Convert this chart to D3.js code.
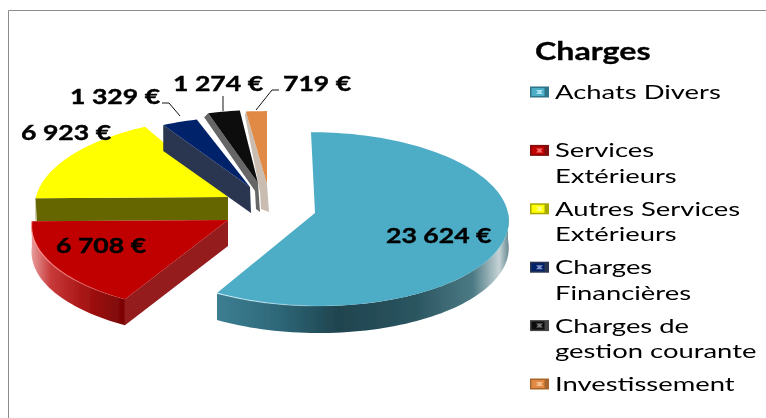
<!DOCTYPE html>
<html>
<head>
<meta charset="utf-8">
<script src="https://cdn.jsdelivr.net/npm/d3@7"></script>
<style>
  html, body { margin: 0; padding: 0; background: #fff; }
  svg { display: block; }
  text { font-family: Lato, sans-serif; fill: #000; }
</style>
</head>
<body>
<div id="chart"></div>
<script>
const categories = ["Achats Divers", "Services Extérieurs", "Autres Services Extérieurs", "Charges Financières", "Charges de gestion courante", "Investissement"];
const values = [23624, 6708, 6923, 1329, 1274, 719];
const title = "Charges";

// legend text broken the way the original wraps it
const legendLines = [["Achats Divers"], ["Services", "Extérieurs"], ["Autres Services", "Extérieurs"], ["Charges", "Financières"], ["Charges de", "gestion courante"], ["Investissement"]];

const topColors = ["#4dacc6", "#c00000", "#ffff00", "#04246a", "#0a0a0a", "#e08a44"];
const flatWalls = ["#2f6a7c", "#951a1e", "#666600", "#2a3650", "#666666", "#c9bdb2"];
const swatchEdges = ["#2f7488", "#7e0a0a", "#a8a800", "#2a3650", "#444444", "#a8662e"];
const swatchGlow = ["#a8e2f0", "#f06a6a", "#ffff90", "#7f92c8", "#777777", "#f4c090"];

// each exploded slice has its own centre and radii, the original is a perspective 3D pie
const centers = [[315, 213], [228, 220], [228, 197], [250, 187], [258, 183], [267, 184]];
const radii = [[193, 86.5], [196, 85.6], [192, 85.6], [187, 75.5], [175, 78], [203, 78]];
const shears = [4, 0, -7, 0, 0, 0];
const depths = [27, 26, 23, 26, 29, 28];
const drawOrder = [2, 3, 4, 5, 1, 0];

const width = 766;
const height = 418;
const perspective = 0.07;

const svg = d3.select("#chart")
    .append("svg")
    .attr("width", width)
    .attr("height", height);

const defs = svg.append("defs");
defs.append("filter").attr("id", "soft")
    .attr("x", "-5%").attr("y", "-5%").attr("width", "110%").attr("height", "110%")
    .append("feGaussianBlur").attr("stdDeviation", 0.45);

function wallGradient(id, x1, x2, stops) {
    const g = defs.append("linearGradient").attr("id", id)
        .attr("gradientUnits", "userSpaceOnUse")
        .attr("x1", x1).attr("x2", x2).attr("y1", 0).attr("y2", 0);
    stops.forEach(s => g.append("stop").attr("offset", s[0]).attr("stop-color", s[1]));
}
wallGradient("wall-blue", 216, 508, [[0, "#3c7f92"], [0.2, "#2f6a7b"], [0.42, "#1f444f"], [0.68, "#2a5560"], [0.88, "#4c7a84"], [0.97, "#c5d3d6"], [1, "#6f8f96"]]);
wallGradient("wall-red", 32, 126, [[0, "#e89a9a"], [0.2, "#c83a3a"], [0.55, "#a81414"], [1, "#780404"]]);

function rimGradient(id, x1, x2, color) {
    const g = defs.append("linearGradient").attr("id", id)
        .attr("gradientUnits", "userSpaceOnUse")
        .attr("x1", x1).attr("x2", x2).attr("y1", 0).attr("y2", 0);
    g.append("stop").attr("offset", 0).attr("stop-color", color).attr("stop-opacity", 0.9);
    g.append("stop").attr("offset", 1).attr("stop-color", color).attr("stop-opacity", 0);
}
rimGradient("rim-blue", 218, 340, "#d8f4fb");
rimGradient("rim-red", 36, 126, "#ff9a9a");

const pie = d3.pie().sort(null).value(d => d);
const slices = pie(values);

// ground plane to screen, front of the pie comes out a bit larger
function project(i, a) {
    const [cx, cy] = centers[i];
    const [rx, ry] = radii[i];
    const v = -Math.cos(a);
    const s = 1 / (1 - perspective * v);
    return [cx + rx * Math.sin(a) * s + shears[i] * v, cy + ry * v * s];
}

function arcPoints(i, a0, a1) {
    const n = Math.max(2, Math.ceil((a1 - a0) / 0.03));
    return d3.range(n + 1).map(k => project(i, a0 + (a1 - a0) * k / n));
}

const line = d3.line();
const pieG = svg.append("g").attr("filter", "url(#soft)");

drawOrder.forEach(i => {
    const d = slices[i];
    const apex = centers[i];
    const depth = depths[i];
    const rim = arcPoints(i, d.startAngle, d.endAngle);
    const down = p => [p[0], p[1] + depth];

    // outer curved wall, only the part that faces the viewer
    const frontA0 = Math.max(d.startAngle, Math.PI / 2);
    const frontA1 = Math.min(d.endAngle, 3 * Math.PI / 2);
    if (frontA1 > frontA0) {
        const front = arcPoints(i, frontA0, frontA1);
        pieG.append("path")
            .attr("d", line(front.concat(front.slice().reverse().map(down))) + "Z")
            .attr("fill", i === 0 ? "url(#wall-blue)" : i === 1 ? "url(#wall-red)" : flatWalls[i]);
    }

    // flat cut wall
    const p = project(i, d.startAngle);
    if (i === 1) {
        pieG.append("path").attr("d", line([p, apex, down(apex), down(p)]) + "Z").attr("fill", flatWalls[i]);
    } else if (i === 2) {
        pieG.append("path").attr("d", line([p, apex, down(apex), [p[0] + 1, p[1] + depth]]) + "Z").attr("fill", flatWalls[i]);
    } else if (i === 3) {
        pieG.append("path").attr("d", line([p, apex, [apex[0] + 1, apex[1] + depth], down(p)]) + "Z").attr("fill", flatWalls[i]);
    } else if (i >= 4) {
        // thin slices, the wall shows as a narrow band along the cut
        const outer = i === 4 ? -4 : -1;
        const inner = i === 4 ? -3 : -7;
        pieG.append("path")
            .attr("d", line([p, apex, [apex[0] + 2, apex[1] + depth], [apex[0] + inner + 1, apex[1] + depth - 3], [apex[0] + inner, apex[1] + 8], [p[0] + outer, p[1] + 4]]) + "Z")
            .attr("fill", flatWalls[i]);
    }

    // top face
    pieG.append("path")
        .attr("d", line([apex].concat(rim)) + "Z")
        .attr("fill", topColors[i]);

    // highlight on the front edge
    if (i < 2) {
        pieG.append("path")
            .attr("d", line(arcPoints(i, Math.PI * 0.95, d.endAngle)))
            .attr("fill", "none")
            .attr("stroke", i === 0 ? "url(#rim-blue)" : "url(#rim-red)")
            .attr("stroke-width", 1.2);
    }
});

const fmt = d3.formatLocale({ decimal: ",", thousands: " ", grouping: [3], currency: ["", " €"] }).format("$,");

// plot area frame, only top and left are visible
svg.append("path")
    .attr("d", line([[8.5, height], [8.5, 10.5], [width, 10.5]]))
    .attr("fill", "none")
    .attr("stroke", "#8c8c8c");

// leader lines for the small slices
const leaders = [null, null, null, [[162, 103], [169, 103], [180, 116]], [[223, 96], [223, 111]], [[279, 90], [272, 90], [256, 110]]];
leaders.forEach(l => {
    if (l) pieG.append("path").attr("d", line(l)).attr("fill", "none").attr("stroke", "#111").attr("stroke-width", 1);
});

// stretched text, the source picture was widened horizontally
function stretch(sel, k) {
    sel.each(function() {
        const w = this.getComputedTextLength();
        d3.select(this).attr("textLength", w * k).attr("lengthAdjust", "spacingAndGlyphs");
    });
}

const textG = svg.append("g").attr("filter", "url(#soft)");

const labelPos = [[386, 243], [56, 253], [21, 140], [70, 104], [173, 91], [283, 91]];
textG.selectAll(".value-label")
    .data(values)
    .join("text")
    .attr("class", "value-label")
    .attr("x", (d, i) => labelPos[i][0])
    .attr("y", (d, i) => labelPos[i][1])
    .attr("font-size", 20)
    .attr("font-weight", 700)
    .style("stroke", "#000")
    .style("stroke-width", 0.4)
    .text(d => fmt(d))
    .call(stretch, 1.33);

textG.append("text")
    .attr("x", 535)
    .attr("y", 60)
    .attr("font-size", 24)
    .attr("font-weight", 700)
    .style("stroke", "#000")
    .style("stroke-width", 0.3)
    .text(title)
    .call(stretch, 1.34);

const legendY = d3.scalePoint().domain(categories).range([92, 384]);

const legend = textG.selectAll(".legend")
    .data(categories)
    .join("g")
    .attr("class", "legend")
    .attr("transform", d => `translate(530,${legendY(d)})`);

legend.append("rect")
    .attr("y", -5.5)
    .attr("width", 19)
    .attr("height", 11)
    .attr("fill", (d, i) => swatchEdges[i]);

// bevelled look of the original keys
legend.append("rect")
    .attr("x", 1.5)
    .attr("y", -4)
    .attr("width", 13)
    .attr("height", 8)
    .attr("fill", (d, i) => topColors[i]);

legend.append("path")
    .attr("d", line([[6, -2], [13, -2], [11, 0], [13, 2], [6, 2], [8, 0]]) + "Z")
    .attr("fill", (d, i) => swatchGlow[i]);

legend.selectAll("text")
    .data((d, i) => legendLines[i])
    .join("text")
    .attr("x", 25)
    .attr("y", (d, i) => 7 + i * 25.5)
    .attr("font-size", 20)
    .text(d => d)
    .call(stretch, 1.37);
</script>
</body>
</html>
